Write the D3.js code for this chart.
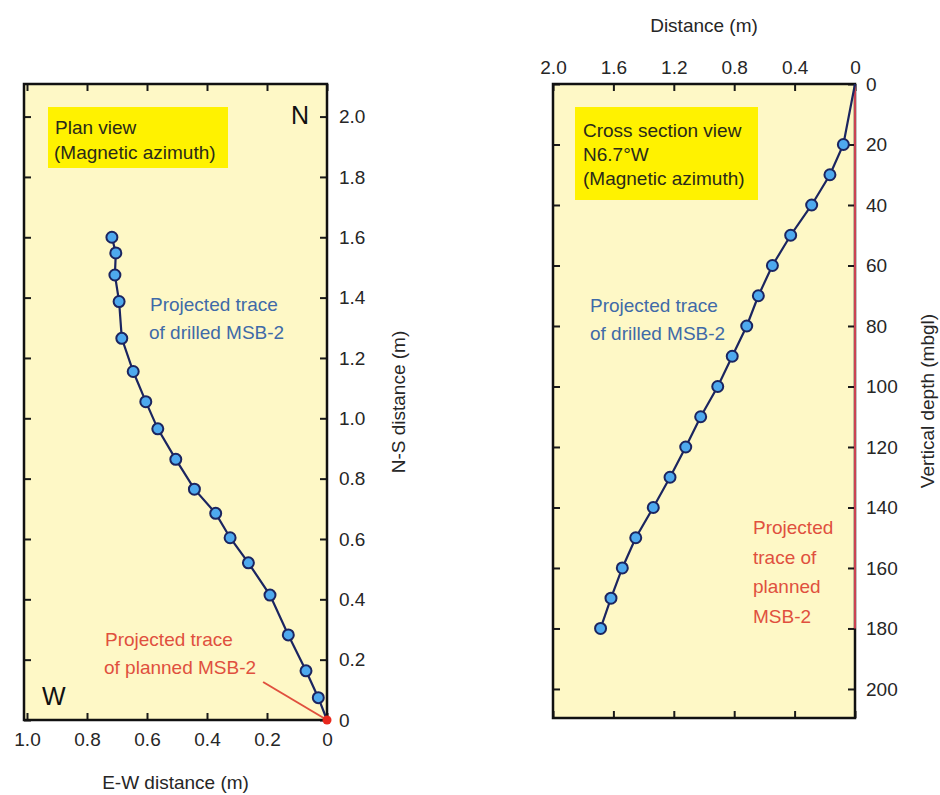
<!DOCTYPE html>
<html>
<head>
<meta charset="utf-8">
<script src="https://cdn.jsdelivr.net/npm/d3@7"></script>
<style>
  body { margin: 0; background: #fff; }
  svg text { font-family: "Liberation Sans", Arial, Helvetica, sans-serif; }
  .tick text { font-size: 19px; fill: #262626; }
  .tick line { stroke: #1a1a1a; stroke-width: 2; }
</style>
</head>
<body>
<div id="content"></div>
<script>
// plan view: drilled trace (E-W, N-S in m), bottom of hole first
const planEW = [0.717, 0.704, 0.707, 0.693, 0.684, 0.646, 0.604, 0.564, 0.504, 0.442, 0.371, 0.323, 0.262, 0.190, 0.129, 0.070, 0.029];
const planNS = [1.600, 1.548, 1.475, 1.387, 1.265, 1.155, 1.055, 0.965, 0.864, 0.765, 0.685, 0.604, 0.521, 0.414, 0.282, 0.163, 0.074];
const collar = [0, 0];
const plannedLeader = [[0, 0], [0.213, 0.126]];

// cross section: distance (m) vs vertical depth (mbgl)
const xsDepth = [20, 30, 40, 50, 60, 70, 80, 90, 100, 110, 120, 130, 140, 150, 160, 170, 180];
const xsDist = [0.077, 0.166, 0.287, 0.426, 0.547, 0.640, 0.717, 0.813, 0.909, 1.022, 1.121, 1.225, 1.336, 1.452, 1.541, 1.616, 1.685];
const plannedDepth = [0, 180];

const planXTicks = [1.0, 0.8, 0.6, 0.4, 0.2, 0];
const planYTicks = [0, 0.2, 0.4, 0.6, 0.8, 1.0, 1.2, 1.4, 1.6, 1.8, 2.0];
const xsDistTicks = [2.0, 1.6, 1.2, 0.8, 0.4, 0];
const xsDepthTicks = [0, 20, 40, 60, 80, 100, 120, 140, 160, 180, 200];

const fmt = d => d === 0 ? '0' : d.toFixed(1);

const panelFill = '#fef8c6';
const boxFill = '#fff200';
const lineCol = '#1b2560';
const dotFill = '#4ea9ee';
const blue = '#3f6aa8';
const red = '#e0503e';

const svg = d3.select('#content')
              .append('svg')
              .attr('width', 940)
              .attr('height', 795);

svg.append('rect').attr('width', 940).attr('height', 795).attr('fill', '#fff');

// ---------- plan view ----------
const plan = {left: 24, top: 84, right: 327, bottom: 720};

const px = d3.scaleLinear().domain([1.01, 0]).range([plan.left, plan.right]);
const py = d3.scaleLinear().domain([0, 2.108]).range([plan.bottom, plan.top]);

const g1 = svg.append('g');

g1.append('rect')
  .attr('x', plan.left).attr('y', plan.top)
  .attr('width', plan.right - plan.left).attr('height', plan.bottom - plan.top)
  .attr('fill', panelFill);

g1.append('g')
  .attr('transform', 'translate(0,' + plan.bottom + ')')
  .call(d3.axisBottom(px).tickValues(planXTicks).tickFormat(fmt).tickSize(-7).tickPadding(13));

g1.append('g')
  .attr('transform', 'translate(0,' + plan.top + ')')
  .call(d3.axisTop(px).tickValues(planXTicks).tickFormat('').tickSize(-7));

g1.append('g')
  .attr('transform', 'translate(' + plan.right + ',0)')
  .call(d3.axisRight(py).tickValues(planYTicks).tickFormat(fmt).tickSize(-7).tickPadding(12));

g1.append('g')
  .attr('transform', 'translate(' + plan.left + ',0)')
  .call(d3.axisLeft(py).tickValues(planYTicks).tickFormat('').tickSize(-7));

g1.append('rect')
  .attr('x', 48).attr('y', 107).attr('width', 180).attr('height', 61)
  .attr('fill', boxFill);

g1.append('text').attr('x', 55).attr('y', 134).attr('font-size', 19).attr('fill', '#2a2a1a').text('Plan view');
g1.append('text').attr('x', 54).attr('y', 159).attr('font-size', 19).attr('fill', '#2a2a1a').text('(Magnetic azimuth)');

g1.append('text').attr('x', 291).attr('y', 124).attr('font-size', 25).attr('fill', '#111').text('N');
g1.append('text').attr('x', 42).attr('y', 705).attr('font-size', 25).attr('fill', '#111').text('W');

g1.append('text').attr('x', 150).attr('y', 311).attr('font-size', 19).attr('fill', blue).text('Projected trace');
g1.append('text').attr('x', 149).attr('y', 339).attr('font-size', 19).attr('fill', blue).text('of drilled MSB-2');

g1.append('text').attr('x', 105).attr('y', 646).attr('font-size', 19).attr('fill', red).text('Projected trace');
g1.append('text').attr('x', 104).attr('y', 674).attr('font-size', 19).attr('fill', red).text('of planned MSB-2');

g1.append('path')
  .datum(plannedLeader)
  .attr('fill', 'none').attr('stroke', red).attr('stroke-width', 2)
  .attr('d', d3.line().x(d => px(d[0])).y(d => py(d[1])));

const planPts = planEW.map((e, i) => [e, planNS[i]]);

g1.append('path')
  .datum(planPts.concat([collar]))
  .attr('fill', 'none').attr('stroke', lineCol).attr('stroke-width', 2.2)
  .attr('d', d3.line().x(d => px(d[0])).y(d => py(d[1])));

g1.append('g')
  .selectAll('circle')
  .data(planPts)
  .enter()
  .append('circle')
  .attr('cx', d => px(d[0])).attr('cy', d => py(d[1]))
  .attr('r', 5.5)
  .attr('fill', dotFill).attr('stroke', lineCol).attr('stroke-width', 2);

g1.append('rect')
  .attr('x', plan.left).attr('y', plan.top)
  .attr('width', plan.right - plan.left).attr('height', plan.bottom - plan.top)
  .attr('fill', 'none').attr('stroke', '#111').attr('stroke-width', 2.5);

g1.append('circle')
  .attr('cx', px(collar[0])).attr('cy', py(collar[1]))
  .attr('r', 4.5).attr('fill', '#e8281e');

g1.append('text')
  .attr('x', (plan.left + plan.right) / 2).attr('y', 789)
  .attr('text-anchor', 'middle').attr('font-size', 19).attr('fill', '#262626')
  .text('E-W distance (m)');

g1.append('text')
  .attr('transform', 'translate(405,' + (plan.top + plan.bottom) / 2 + ') rotate(-90)')
  .attr('text-anchor', 'middle').attr('font-size', 19).attr('fill', '#262626')
  .text('N-S distance (m)');

// ---------- cross section ----------
const xs = {left: 553, top: 84, right: 855, bottom: 718};

const sx = d3.scaleLinear().domain([2.0, 0]).range([xs.left, xs.right]);
const sy = d3.scaleLinear().domain([0, 209.6]).range([xs.top, xs.bottom]);

const g2 = svg.append('g');

g2.append('rect')
  .attr('x', xs.left).attr('y', xs.top)
  .attr('width', xs.right - xs.left).attr('height', xs.bottom - xs.top)
  .attr('fill', panelFill);

g2.append('g')
  .attr('transform', 'translate(0,' + xs.top + ')')
  .call(d3.axisTop(sx).tickValues(xsDistTicks).tickFormat(fmt).tickSize(-7).tickPadding(10));

g2.append('g')
  .attr('transform', 'translate(0,' + xs.bottom + ')')
  .call(d3.axisBottom(sx).tickValues(xsDistTicks).tickFormat('').tickSize(-7));

g2.append('g')
  .attr('transform', 'translate(' + xs.right + ',0)')
  .call(d3.axisRight(sy).tickValues(xsDepthTicks).tickFormat(d3.format('d')).tickSize(-7).tickPadding(11));

g2.append('g')
  .attr('transform', 'translate(' + xs.left + ',0)')
  .call(d3.axisLeft(sy).tickValues(xsDepthTicks).tickFormat('').tickSize(-7));

g2.append('rect')
  .attr('x', 575).attr('y', 107).attr('width', 183).attr('height', 93)
  .attr('fill', boxFill);

g2.append('text').attr('x', 583).attr('y', 137).attr('font-size', 19).attr('fill', '#2a2a1a').text('Cross section view');
g2.append('text').attr('x', 583).attr('y', 161).attr('font-size', 19).attr('fill', '#2a2a1a').text('N6.7°W');
g2.append('text').attr('x', 583).attr('y', 185).attr('font-size', 19).attr('fill', '#2a2a1a').text('(Magnetic azimuth)');

g2.append('text').attr('x', 590).attr('y', 312).attr('font-size', 19).attr('fill', blue).text('Projected trace');
g2.append('text').attr('x', 590).attr('y', 340).attr('font-size', 19).attr('fill', blue).text('of drilled MSB-2');

['Projected', 'trace of', 'planned', 'MSB-2'].forEach((t, i) => {
  g2.append('text')
    .attr('x', 753).attr('y', 534 + i * 29.5)
    .attr('font-size', 19).attr('fill', red)
    .text(t);
});

g2.append('rect')
  .attr('x', xs.left).attr('y', xs.top)
  .attr('width', xs.right - xs.left).attr('height', xs.bottom - xs.top)
  .attr('fill', 'none').attr('stroke', '#111').attr('stroke-width', 2.5);

g2.append('line')
  .attr('x1', sx(0)).attr('x2', sx(0))
  .attr('y1', sy(plannedDepth[0]) + 1.5).attr('y2', sy(plannedDepth[1]))
  .attr('stroke', '#e04a5a').attr('stroke-width', 1.8);

const xsPts = xsDist.map((d, i) => [d, xsDepth[i]]);

g2.append('path')
  .datum([[0, 0]].concat(xsPts))
  .attr('fill', 'none').attr('stroke', lineCol).attr('stroke-width', 2.2)
  .attr('d', d3.line().x(d => sx(d[0])).y(d => sy(d[1])));

g2.append('g')
  .selectAll('circle')
  .data(xsPts)
  .enter()
  .append('circle')
  .attr('cx', d => sx(d[0])).attr('cy', d => sy(d[1]))
  .attr('r', 5.5)
  .attr('fill', dotFill).attr('stroke', lineCol).attr('stroke-width', 2);

g2.append('text')
  .attr('x', (xs.left + xs.right) / 2).attr('y', 32)
  .attr('text-anchor', 'middle').attr('font-size', 19).attr('fill', '#262626')
  .text('Distance (m)');

g2.append('text')
  .attr('transform', 'translate(934,' + (xs.top + xs.bottom) / 2 + ') rotate(-90)')
  .attr('text-anchor', 'middle').attr('font-size', 19).attr('fill', '#262626')
  .text('Vertical depth (mbgl)');

svg.selectAll('.domain').remove();
</script>
</body>
</html>
